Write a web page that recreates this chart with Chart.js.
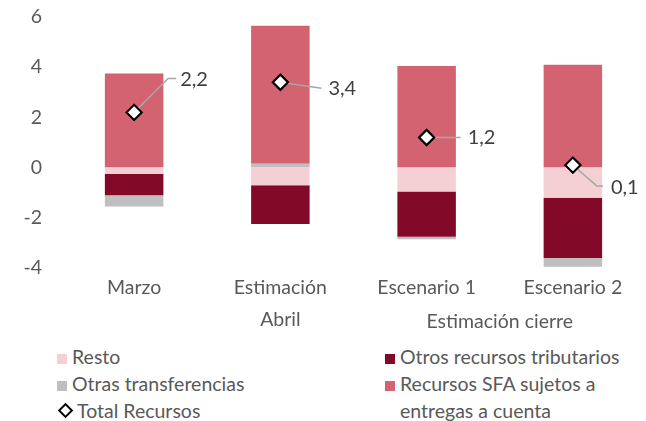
<!DOCTYPE html>
<html>
<head>
<meta charset="utf-8">
<script src="https://cdn.jsdelivr.net/npm/chart.js@4"></script>
<style>
    body { margin: 0; background: #fff; font-family: Lato, sans-serif; color: #595959; }
    #wrap { position: relative; width: 646px; height: 421px; overflow: hidden; }
    #chart { position: absolute; left: 0; top: 0; }
    .leg { position: absolute; font-size: 19.5px; line-height: 27px; white-space: nowrap; }
    .sw { display: inline-block; width: 10px; height: 10px; margin-right: 5px; vertical-align: 0px; }
    .dia { display: inline-block; width: 7px; height: 7px; border: 2px solid #000; background: #fff;
           transform: rotate(45deg); margin: 0 6px 0 3px; vertical-align: 2px; }
</style>
</head>
<body>
<div id="wrap">
    <canvas id="chart" width="646" height="340"></canvas>
    <div class="leg" style="left:57px; top:343px;">
        <div><span class="sw" style="background:#F4CFD4"></span>Resto</div>
        <div><span class="sw" style="background:#BFBFBF"></span>Otras transferencias</div>
        <div><span class="dia"></span>Total Recursos</div>
    </div>
    <div class="leg" style="left:385px; top:343px;">
        <div><span class="sw" style="background:#820A28"></span>Otros recursos tributarios</div>
        <div><span class="sw" style="background:#D46371"></span>Recursos SFA sujetos a</div>
        <div style="padding-left:15px">entregas a cuenta</div>
    </div>
</div>
<script>
// Categories (second line used for the "Abril" sub label)
const categories = [['Marzo', ''], ['Estimación', 'Abril'], ['Escenario 1', ''], ['Escenario 2', '']];
const groupLabel = 'Estimación cierre'; // spans Escenario 1 and 2

// Series values
const resto = [-0.25, -0.7, -0.95, -1.2];
const otrosTributarios = [-0.85, -1.55, -1.8, -2.4];
const otrasTransferencias = [-0.45, 0.15, -0.1, -0.35];
const recursosSFA = [3.75, 5.5, 4.05, 4.1];
const totalRecursos = [2.2, 3.4, 1.2, 0.1];

const yMin = -4;
const yMax = 6;
const yStep = 2;

const COLORS = {
    resto: '#F4CFD4',
    otros: '#820A28',
    transf: '#BFBFBF',
    sfa: '#D46371',
    text: '#595959',
    leader: '#A6A6A6'
};

const FONT = 'Lato, sans-serif';

// leader line paths and label anchor, relative to each diamond (pixels)
const labelLayout = [
    { path: [[0, 0], [34, -34], [42, -34]], text: [46, -33] },
    { path: [[0, 0], [41, 6]], text: [48, 6] },
    { path: [[0, 0], [34, 0]], text: [41, 0] },
    { path: [[0, 0], [24, 21], [30, 21]], text: [38, 22] }
];

function fmt(v) {
    return v.toFixed(1).replace('.', ',');
}

const totalLabels = {
    id: 'totalLabels',
    afterDatasetsDraw(chart) {
        const ctx = chart.ctx;
        const meta = chart.getDatasetMeta(4);
        ctx.save();
        meta.data.forEach((pt, i) => {
            const lay = labelLayout[i];
            ctx.strokeStyle = COLORS.leader;
            ctx.lineWidth = 1.5;
            ctx.beginPath();
            lay.path.forEach(([dx, dy], k) => {
                if (k === 0) ctx.moveTo(pt.x + dx, pt.y + dy);
                else ctx.lineTo(pt.x + dx, pt.y + dy);
            });
            ctx.stroke();
        });
        // redraw diamonds on top of leader lines
        meta.data.forEach(pt => pt.draw(ctx));
        ctx.fillStyle = '#404040';
        ctx.font = '20px ' + FONT;
        ctx.textAlign = 'left';
        ctx.textBaseline = 'middle';
        meta.data.forEach((pt, i) => {
            const lay = labelLayout[i];
            ctx.fillText(fmt(totalRecursos[i]), pt.x + lay.text[0], pt.y + lay.text[1]);
        });
        ctx.restore();
    }
};

const groupAxisLabel = {
    id: 'groupAxisLabel',
    afterDraw(chart) {
        const x = chart.scales.x;
        const ctx = chart.ctx;
        const cx = (x.getPixelForValue(2) + x.getPixelForValue(3)) / 2;
        ctx.save();
        ctx.fillStyle = COLORS.text;
        ctx.font = '19.5px ' + FONT;
        ctx.textAlign = 'center';
        ctx.textBaseline = 'middle';
        ctx.fillText(groupLabel, cx, chart.chartArea.bottom + 54);
        ctx.restore();
    }
};

function barSet(label, data, color) {
    return {
        type: 'bar',
        label,
        data,
        backgroundColor: color,
        borderWidth: 0,
        stack: 's',
        categoryPercentage: 0.8,
        barPercentage: 0.5,
        order: 2
    };
}

new Chart(document.getElementById('chart'), {
    data: {
        labels: categories,
        datasets: [
            barSet('Resto', resto, COLORS.resto),
            barSet('Otros recursos tributarios', otrosTributarios, COLORS.otros),
            barSet('Otras transferencias', otrasTransferencias, COLORS.transf),
            barSet('Recursos SFA sujetos a entregas a cuenta', recursosSFA, COLORS.sfa),
            {
                type: 'line',
                label: 'Total Recursos',
                data: totalRecursos,
                showLine: false,
                pointStyle: 'rectRot',
                pointRadius: 7.5,
                pointBackgroundColor: '#fff',
                pointBorderColor: '#000',
                pointBorderWidth: 2,
                order: 1
            }
        ]
    },
    options: {
        responsive: false,
        animation: false,
        layout: { autoPadding: false, padding: { top: 17, right: 0, left: 0, bottom: 0 } },
        plugins: {
            legend: { display: false },
            tooltip: { enabled: false }
        },
        scales: {
            x: {
                stacked: true,
                grid: { display: false, drawTicks: false },
                border: { display: false },
                ticks: {
                    color: COLORS.text,
                    font: { family: FONT, size: 19.5, lineHeight: 1.64 },
                    padding: 4,
                    maxRotation: 0
                },
                afterFit(scale) { scale.height = 72; }
            },
            y: {
                stacked: true,
                min: yMin,
                max: yMax,
                grid: { display: false, drawTicks: false },
                border: { display: false },
                ticks: {
                    stepSize: yStep,
                    color: COLORS.text,
                    font: { family: FONT, size: 19.5 },
                    padding: 19
                },
                afterFit(scale) {
                    scale.width = 61;
                    scale.paddingTop = 0;
                    scale.paddingBottom = 0;
                }
            }
        }
    },
    plugins: [totalLabels, groupAxisLabel]
});
</script>
</body>
</html>
